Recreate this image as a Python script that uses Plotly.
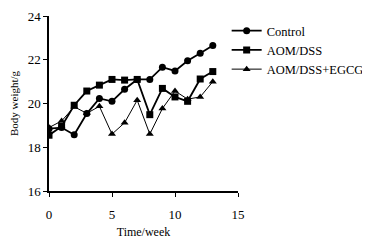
import plotly.graph_objects as go

weeks = list(range(14))
control = [18.85, 18.9, 18.57, 19.54, 20.23, 20.1, 20.65, 21.1, 21.1, 21.66, 21.49, 21.95, 22.3, 22.65]
aom_dss = [18.55, 18.95, 19.92, 20.57, 20.84, 21.1, 21.07, 21.1, 19.49, 20.69, 20.3, 20.1, 21.12, 21.46]
aom_egcg = [18.9, 19.2, 19.85, 19.55, 19.87, 18.6, 19.12, 20.15, 18.6, 19.77, 20.57, 20.2, 20.3, 21.0]

font_family = "Liberation Serif, Times New Roman, serif"

fig = go.Figure()
fig.add_trace(go.Scatter(x=weeks, y=control, name="Control", mode="lines+markers",
                         line=dict(color="black", width=1.8),
                         marker=dict(symbol="circle", size=7, color="black")))
fig.add_trace(go.Scatter(x=weeks, y=aom_dss, name="AOM/DSS", mode="lines+markers",
                         line=dict(color="black", width=1.8),
                         marker=dict(symbol="square", size=7, color="black")))
fig.add_trace(go.Scatter(x=weeks, y=aom_egcg, name="AOM/DSS+EGCG", mode="lines+markers",
                         line=dict(color="black", width=1),
                         marker=dict(symbol="triangle-up", size=7, color="black")))

fig.update_layout(
    width=362, height=237,
    margin=dict(l=41, r=132, t=8, b=54, autoexpand=False),
    paper_bgcolor="white", plot_bgcolor="white",
    font=dict(family=font_family, color="black", size=12),
    legend=dict(x=0.94, y=1.0, xanchor="left", yanchor="top",
                font=dict(size=12.5, family=font_family),
                itemwidth=30, tracegroupgap=0, bgcolor="rgba(0,0,0,0)"),
    xaxis=dict(range=[0, 15], tickvals=[0, 5, 10, 15], showgrid=False, zeroline=False,
               showline=True, linecolor="black", linewidth=1.5, ticks="outside",
               ticklen=4, tickcolor="black", tickwidth=1.2, tickfont=dict(size=13),
               ticklabelstandoff=7, automargin=False,
               title=dict(text="Time/week", font=dict(size=12), standoff=6)),
    yaxis=dict(range=[16, 24], tickvals=[16, 18, 20, 22, 24], showgrid=False, zeroline=False,
               showline=True, linecolor="black", linewidth=1.5, ticks="outside",
               ticklen=4, tickcolor="black", tickwidth=1.2, tickfont=dict(size=13),
               automargin=False,
               title=dict(text="Body weight/g", font=dict(size=11), standoff=8)),
)

fig.write_html("out.html")
